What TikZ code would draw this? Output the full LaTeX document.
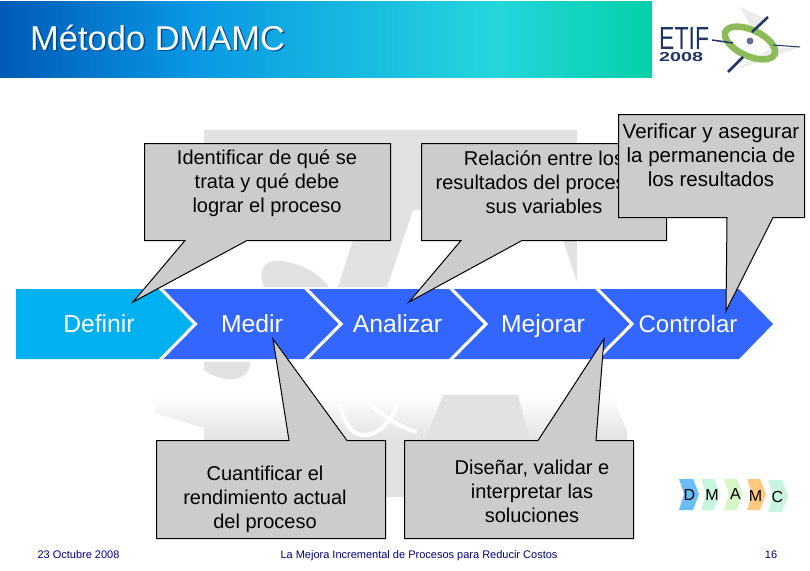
\documentclass[tikz,border=0pt]{standalone}
\usepackage{fontspec}
\setmainfont{Liberation Sans}
\definecolor{wm}{HTML}{E2E2E2}
\definecolor{bandblue}{HTML}{3366FF}
\definecolor{bandcyan}{HTML}{00B0F0}
\definecolor{callgray}{HTML}{CCCCCC}
\definecolor{navy}{HTML}{000080}
\definecolor{titleshadow}{HTML}{004A8F}
\definecolor{logoblue}{HTML}{1F3566}
\definecolor{logogreen}{HTML}{8DBB5A}
\definecolor{hdrA}{HTML}{005AB8}
\definecolor{hdrB}{HTML}{0A98E4}
\definecolor{hdrC}{HTML}{24D6DC}
\definecolor{hdrD}{HTML}{04D0A8}
\definecolor{miniD}{HTML}{6CBCFA}
\definecolor{miniM}{HTML}{C8F5E0}
\definecolor{miniA}{HTML}{D8F5C8}
\definecolor{miniO}{HTML}{FFC880}
\pgfdeclarehorizontalshading{hdrshade}{100bp}{
  color(0bp)=(hdrA);color(25bp)=(hdrA);
  color(40bp)=(hdrB);color(63bp)=(hdrC);
  color(75bp)=(hdrD);color(100bp)=(hdrD)}
\tikzset{
  chevlabel/.style={anchor=base,text=white,font=\fontsize{24.7}{24}\selectfont,inner sep=0pt},
  callout/.style={fill=callgray,draw=black,line width=1pt,line join=miter},
  calltext/.style={align=center,inner sep=0pt,text=black,font=\fontsize{20}{24}\selectfont},
  foot/.style={anchor=base,text=navy,inner sep=0pt,font=\fontsize{11}{13}\selectfont},
  mini/.style={anchor=base,inner sep=0pt,text=black,font=\fontsize{16}{16}\selectfont},
}
\begin{document}
\begin{tikzpicture}[x=1pt,y=-1pt]
\useasboundingbox (0,0) rectangle (810,570);
\fill[white] (0,0) rectangle (810,570);
% watermark
\fill[wm] (204,130) -- (577,130) -- (577,240) -- (421,240) -- (421,210) -- (413,210) -- (387,287) -- (338,287) -- (353,240) -- (204,240) -- cycle;
\fill[wm] (577,240) -- (563,240) -- (577,282) -- cycle;
\fill[wm] (264,287) .. controls (258,272) and (262,260) .. (280,261) .. controls (300,263) and (318,272) .. (329,287) -- cycle;
\fill[wm] (204,362) -- (250,362) .. controls (251,375) and (238,381) .. (225,379) .. controls (215,377) and (208,373) .. (204,370) -- cycle;
\shade[top color=white,bottom color=wm] (155,395) -- (612,395) -- (627,431) -- (627,440) -- (204,440) -- (204,428) -- (155,413) -- cycle;
\fill[wm] (443,395) -- (518,395) -- (530,440) -- (425,440) -- cycle;
\fill[wm] (386,440) rectangle (404,497);
\draw[white,line width=4pt] (340,405) .. controls (345,425) and (352,436) .. (366,435) .. controls (380,434) and (392,420) .. (397,405);
\draw[white,line width=4pt] (367,402) .. controls (382,415) and (400,428) .. (417,432);
% header
\shade[shading=hdrshade] (0,1) rectangle (652,77);
\node[anchor=base west,inner sep=0pt,text=titleshadow,font=\fontsize{34.5}{36}\selectfont] (titleb) at (31.5,51.5) {Método DMAMC};
\node[anchor=base west,inner sep=0pt,text=white,font=\fontsize{34.5}{36}\selectfont] (title) at (30,50) {Método DMAMC};
% logo
\fill[gray!15] (740,7) -- (768,20) -- (755,34) -- cycle;
\fill[gray!15] (735,70) -- (800,47) -- (770,49) -- cycle;
\draw[logogreen,line width=6.5pt,rotate around={-25:(750,43)}] (750,43) ellipse [x radius=27,y radius=13];
\draw[logoblue,line width=1.5pt] (712,40) -- (733,43);
\draw[logoblue,line width=1pt] (773,45) -- (800,47);
\draw[logoblue,line width=2.5pt] (728,72) -- (743,57);
\draw[logoblue,line width=2.5pt] (752,32) -- (768,17);
\fill[logoblue!70] (750,41) circle (3.5);
\node[anchor=base west,inner sep=0pt,text=logoblue,font=\fontsize{32}{32}\selectfont] (etif) at (659,49.5) {\scalebox{.72}[1]{ETIF}};
\node[anchor=base west,inner sep=0pt,text=logoblue,font=\fontsize{13}{13}\selectfont\bfseries] (year) at (659,61) {\scalebox{1.52}[1]{2008}};
% chevron band
\fill[bandblue] (599,289) -- (739,289) -- (773,324) -- (739,359) -- (599,359) -- (634,324) -- cycle;
\fill[bandblue] (453,289) -- (595,289) -- (630,324) -- (595,359) -- (453,359) -- (488,324) -- cycle;
\fill[bandblue] (308,289) -- (449,289) -- (484,324) -- (449,359) -- (308,359) -- (343,324) -- cycle;
\fill[bandblue] (162,289) -- (304,289) -- (339,324) -- (304,359) -- (162,359) -- (197,324) -- cycle;
\fill[bandcyan] (16,289) -- (159,289) -- (193,324) -- (159,359) -- (16,359) -- cycle;
\begin{scope}
\clip (150,289) rectangle (780,359);
\draw[white,line width=3pt] (160,288) -- (195.5,324) -- (160,360);
\draw[white,line width=3pt] (305.5,288) -- (341,324) -- (305.5,360);
\draw[white,line width=3pt] (450.5,288) -- (486,324) -- (450.5,360);
\draw[white,line width=3pt] (596.5,288) -- (632,324) -- (596.5,360);
\end{scope}
\node[chevlabel] (definir) at (99,332) {Definir};
\node[chevlabel] (medir) at (252,332) {Medir};
\node[chevlabel] (analizar) at (397.5,332) {Analizar};
\node[chevlabel] (mejorar) at (543,332) {Mejorar};
\node[chevlabel,font=\fontsize{24}{24}\selectfont] (controlar) at (688,332) {Controlar};
% callouts
\draw[callout] (144.5,143.5) -- (390.5,143.5) -- (390.5,240.5) -- (247,240.5) -- (133,302) -- (185,240.5) -- (144.5,240.5) -- cycle;
\node[calltext] (c1) at (267,183.5) {Identificar de qué se\\trata y qué debe\\lograr el proceso};
\draw[callout] (421.5,143.5) -- (666.5,143.5) -- (666.5,240.5) -- (522,240.5) -- (409,302) -- (461,240.5) -- (421.5,240.5) -- cycle;
\node[calltext] (c2) at (544,182) {Relación entre los\\resultados del proceso y\\sus variables};
\draw[callout] (618.5,114.5) -- (804.5,114.5) -- (804.5,217.5) -- (773,217.5) -- (726,311) -- (727,217.5) -- (618.5,217.5) -- cycle;
\node[calltext,font=\fontsize{20.5}{24}\selectfont] (c3) at (711,155) {Verificar y asegurar\\la permanencia de\\los resultados};
\draw[callout] (156.5,440.5) -- (289,440.5) -- (273,339) -- (347,440.5) -- (385.5,440.5) -- (385.5,538.5) -- (156.5,538.5) -- cycle;
\node[calltext] (c4) at (265,499.5) {Cuantificar el\\rendimiento actual\\del proceso};
\draw[callout] (404.5,440.5) -- (538,440.5) -- (604,339) -- (596,440.5) -- (633.5,440.5) -- (633.5,538.5) -- (404.5,538.5) -- cycle;
\node[calltext] (c5) at (532,491.5) {Diseñar, validar e\\interpretar las\\soluciones};
% mini chevrons
\fill[miniD] (679,479) -- (693,479) -- (699,494) -- (693,510) -- (679,510) -- (684,494) -- cycle;
\fill[miniM] (701,479) -- (714,479) -- (720,494) -- (714,510) -- (701,510) -- (706,494) -- cycle;
\fill[miniA] (724,479) -- (737,479) -- (743,494) -- (737,510) -- (724,510) -- (729,494) -- cycle;
\fill[miniO] (747,479) -- (760,479) -- (766,494) -- (760,510) -- (747,510) -- (752,494) -- cycle;
\fill[miniM] (768,480) -- (782,480) -- (788,496) -- (782,512) -- (768,512) -- (773,496) -- cycle;
\node[mini] (md) at (689.5,500) {D};
\node[mini] (mm) at (712,500) {M};
\node[mini] (ma) at (735.5,499) {A};
\node[mini] (mm2) at (755.5,501) {M};
\node[mini] (mc) at (777.5,502) {C};
% footer
\node[foot] (date) at (78.5,558) {23 Octubre 2008};
\node[foot] (foottitle) at (419,558) {La Mejora Incremental de Procesos para Reducir Costos};
\node[foot] (page) at (771,558) {16};
\end{tikzpicture}
\end{document}
